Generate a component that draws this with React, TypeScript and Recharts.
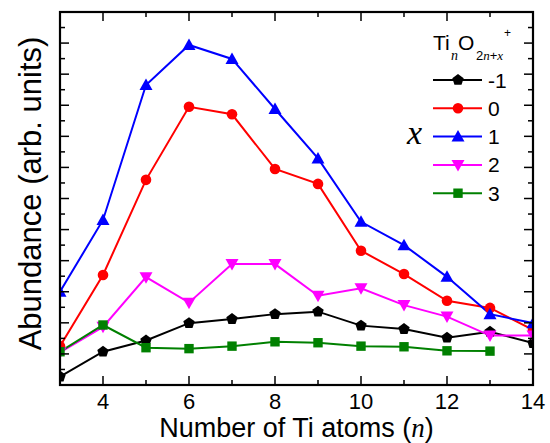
import { LineChart, Line, XAxis, YAxis, Legend } from 'recharts';

// Ti_n O_(2n+x)+ abundance (arb. units, 0..12 frame scale)
const nValues = [3, 4, 5, 6, 7, 8, 9, 10, 11, 12, 13, 14];
const xMinus1 = [0.27, 1.07, 1.43, 1.99, 2.12, 2.28, 2.36, 1.91, 1.8, 1.52, 1.71, 1.35];
const xZero = [1.25, 3.54, 6.6, 8.95, 8.71, 6.95, 6.47, 4.32, 3.57, 2.71, 2.48, 1.77];
const xOne = [3.0, 5.31, 9.65, 10.94, 10.49, 8.88, 7.29, 5.25, 4.5, 3.48, 2.28, 1.99];
const xTwo = [1.05, 1.87, 3.47, 2.65, 3.89, 3.89, 2.87, 3.11, 2.57, 2.2, 1.59, 1.59];
const xThree = [1.07, 1.93, 1.2, 1.17, 1.25, 1.39, 1.36, 1.25, 1.23, 1.1, 1.09, null];

const xTicks = [3, 4, 5, 6, 7, 8, 9, 10, 11, 12, 13, 14];
const yTicks = [0, 0.5, 1, 1.5, 2, 2.5, 3, 3.5, 4, 4.5, 5, 5.5, 6, 6.5, 7, 7.5, 8, 8.5, 9, 9.5, 10, 10.5, 11, 11.5, 12];
const xDomain = [3, 14];
const yDomain = [0, 12];

const seriesKeys = ['m1', 'x0', 'x1', 'x2', 'x3'];
const seriesNames = ['-1', '0', '1', '2', '3'];
const seriesColors = ['#000000', '#ff0000', '#0000ff', '#ff00ff', '#008000'];
const seriesShapes = ['pentagon', 'circle', 'triangle', 'triangleDown', 'square'];
const seriesValues = [xMinus1, xZero, xOne, xTwo, xThree];

const rows = nValues.map((n, i) => {
  const row: any = { n };
  seriesKeys.forEach((k, j) => (row[k] = seriesValues[j][i]));
  return row;
});

// chart box
const W = 550;
const H = 443;
const MARGIN = { top: 12, right: 17, bottom: 0, left: 0 };
const X_AXIS_H = 58;
const Y_AXIS_W = 60;
const PLOT = {
  left: MARGIN.left + Y_AXIS_W,
  top: MARGIN.top,
  right: W - MARGIN.right,
  bottom: H - MARGIN.bottom - X_AXIS_H,
};

const SANS = "'Liberation Sans', Arial, sans-serif";
const SERIF = "'Liberation Serif', 'Times New Roman', serif";

function Marker({ shape, cx, cy, color }: any) {
  if (cx == null || cy == null) return null;
  if (shape === 'circle') return <circle cx={cx} cy={cy} r={5.3} fill={color} />;
  if (shape === 'square') return <rect x={cx - 4.7} y={cy - 4.7} width={9.4} height={9.4} fill={color} />;
  if (shape === 'triangle')
    return <polygon points={`${cx},${cy - 6.5} ${cx + 6.5},${cy + 5} ${cx - 6.5},${cy + 5}`} fill={color} />;
  if (shape === 'triangleDown')
    return <polygon points={`${cx},${cy + 6.5} ${cx + 6.5},${cy - 5} ${cx - 6.5},${cy - 5}`} fill={color} />;
  const pts = [0, 1, 2, 3, 4]
    .map((k) => {
      const a = -Math.PI / 2 + (k * 2 * Math.PI) / 5;
      return `${cx + 6 * Math.cos(a)},${cy + 6 * Math.sin(a)}`;
    })
    .join(' ');
  return <polygon points={pts} fill={color} />;
}

function XTick({ x, y, payload }: any) {
  const major = payload.value % 2 === 0;
  return (
    <g>
      <line x1={x} x2={x} y1={y} y2={y - (major ? 9 : 5)} stroke="#000" strokeWidth={1.5} />
      {major && (
        <text x={x} y={y + 24} textAnchor="middle" fontSize={22} fontFamily={SANS} fill="#000">
          {payload.value}
        </text>
      )}
    </g>
  );
}

function YTick({ x, y, payload }: any) {
  const major = Number.isInteger(payload.value);
  return <line x1={x} x2={x + (major ? 9 : 5)} y1={y} y2={y} stroke="#000" strokeWidth={1.5} />;
}

// top and right edges of the box with their inward ticks
function FrameOverlay() {
  const sx = (v: number) => PLOT.left + ((v - xDomain[0]) / (xDomain[1] - xDomain[0])) * (PLOT.right - PLOT.left);
  const sy = (v: number) => PLOT.bottom - ((v - yDomain[0]) / (yDomain[1] - yDomain[0])) * (PLOT.bottom - PLOT.top);
  return (
    <svg
      width={W}
      height={H}
      style={{ position: 'absolute', left: 0, top: 0, zIndex: 5, pointerEvents: 'none' }}
    >
      <rect
        x={PLOT.left}
        y={PLOT.top}
        width={PLOT.right - PLOT.left}
        height={PLOT.bottom - PLOT.top}
        fill="none"
        stroke="#000"
        strokeWidth={2.2}
      />
      {xTicks.map((t) => (
        <line
          key={`t${t}`}
          x1={sx(t)}
          x2={sx(t)}
          y1={PLOT.top}
          y2={PLOT.top + (t % 2 === 0 ? 9 : 5)}
          stroke="#000"
          strokeWidth={1.5}
        />
      ))}
      {yTicks.map((t) => (
        <line
          key={`r${t}`}
          x1={PLOT.right}
          x2={PLOT.right - (Number.isInteger(t) ? 9 : 5)}
          y1={sy(t)}
          y2={sy(t)}
          stroke="#000"
          strokeWidth={1.5}
        />
      ))}
    </svg>
  );
}

function LegendBox({ payload }: any) {
  return (
    <svg width={150} height={200} style={{ display: 'block', overflow: 'visible' }}>
      <text fontFamily={SANS} fill="#000">
        <tspan x={33} y={30} fontSize={21}>Ti</tspan>
        <tspan x={51} y={40} fontSize={14} fontFamily={SERIF} fontStyle="italic">n</tspan>
        <tspan x={58} y={30} fontSize={21}>O</tspan>
        <tspan x={76} y={40} fontSize={13}>2</tspan>
        <tspan fontSize={13} fontFamily={SERIF} fontStyle="italic">n</tspan>
        <tspan fontSize={13}>+</tspan>
        <tspan fontSize={13} fontFamily={SERIF} fontStyle="italic">x</tspan>
        <tspan x={104} y={17} fontSize={12}>+</tspan>
      </text>
      <text x={7} y={124} fontSize={34} fontFamily={SERIF} fontStyle="italic" fill="#000">x</text>
      {(payload || [])
        .filter((entry: any) => seriesKeys.includes(entry.dataKey))
        .map((entry: any) => {
          const i = seriesKeys.indexOf(entry.dataKey);
          const yRow = 60 + i * 28.3;
          return (
            <g key={entry.dataKey}>
              <line x1={33} x2={82} y1={yRow} y2={yRow} stroke={seriesColors[i]} strokeWidth={2} />
              <Marker shape={seriesShapes[i]} cx={58} cy={yRow} color={seriesColors[i]} />
              <text x={88} y={yRow + 7.5} fontSize={21} fontFamily={SANS} fill="#000">
                {seriesNames[i]}
              </text>
            </g>
          );
        })}
    </svg>
  );
}

export default function App() {
  return (
    <div style={{ position: 'absolute', left: 0, top: 0, width: W, height: H, background: '#fff' }}>
      <LineChart width={W} height={H} data={rows} margin={MARGIN}>
        <XAxis
          dataKey="n"
          type="number"
          domain={xDomain}
          ticks={xTicks}
          allowDataOverflow
          height={X_AXIS_H}
          tickSize={0}
          tickMargin={0}
          tick={<XTick />}
          interval={0}
          axisLine={{ stroke: '#000', strokeWidth: 2 }}
          label={{
            content: ({ viewBox }: any) => (
              <text
                x={viewBox.x + viewBox.width / 2}
                y={viewBox.y + 52}
                textAnchor="middle"
                fontSize={27}
                fontFamily={SANS}
                fill="#000"
              >
                Number of Ti atoms (
                <tspan fontFamily={SERIF} fontStyle="italic">n</tspan>)
              </text>
            ),
          }}
        />
        <YAxis
          type="number"
          domain={yDomain}
          ticks={yTicks}
          allowDataOverflow
          width={Y_AXIS_W}
          tickSize={0}
          tickMargin={0}
          tick={<YTick />}
          interval={0}
          axisLine={{ stroke: '#000', strokeWidth: 2 }}
          label={{
            content: ({ viewBox }: any) => (
              <text
                transform={`translate(${viewBox.x + 41}, ${viewBox.y + viewBox.height / 2 - 5}) rotate(-90)`}
                textAnchor="middle"
                fontSize={31}
                fontFamily={SANS}
                fill="#000"
              >
                Abundance (arb. units)
              </text>
            ),
          }}
        />
        <Legend
          layout="horizontal"
          verticalAlign="middle"
          align="center"
          content={<LegendBox />}
          wrapperStyle={{ left: 400, top: 20, width: 150, height: 200 }}
        />
        {seriesKeys.map((k, i) => (
          <Line
            key={k}
            dataKey={k}
            name={seriesNames[i]}
            stroke={seriesColors[i]}
            strokeWidth={2}
            isAnimationActive={false}
            dot={(p: any) => (
              <Marker key={`${k}-${p.index}`} shape={seriesShapes[i]} cx={p.cx} cy={p.cy} color={seriesColors[i]} />
            )}
            activeDot={false}
          />
        ))}
      </LineChart>
      <FrameOverlay />
    </div>
  );
}
